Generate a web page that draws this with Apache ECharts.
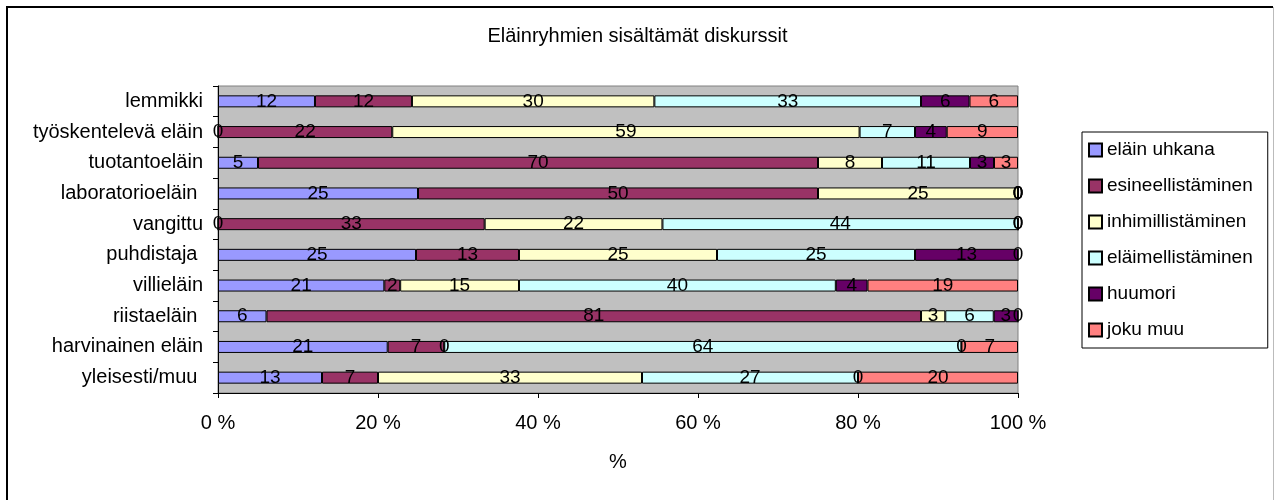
<!DOCTYPE html>
<html>
<head>
<meta charset="utf-8">
<title>Eläinryhmien sisältämät diskurssit</title>
<script src="https://cdn.jsdelivr.net/npm/echarts@6/dist/echarts.min.js"></script>
<style>
  html, body { margin: 0; padding: 0; background: #fff; }
  #chart { width: 1275px; height: 500px; }
</style>
</head>
<body>
<div id="chart"></div>
<script>
// categories, top to bottom
const categories = [
  'lemmikki', 'työskentelevä eläin', 'tuotantoeläin', 'laboratorioeläin ', 'vangittu',
  'puhdistaja ', 'villieläin', 'riistaeläin ', 'harvinainen eläin', 'yleisesti/muu '
];
const seriesNames = [
  'eläin uhkana', 'esineellistäminen', 'inhimillistäminen',
  'eläimellistäminen', 'huumori', 'joku muu'
];
// values as printed on the bars
const elainUhkana       = [12, 0, 5, 25, 0, 25, 21, 6, 21, 13];
const esineellistaminen = [12, 22, 70, 50, 33, 13, 2, 81, 7, 7];
const inhimillistaminen = [30, 59, 8, 25, 22, 25, 15, 3, 0, 33];
const elaimellistaminen = [33, 7, 11, 0, 44, 25, 40, 6, 64, 27];
const huumori           = [6, 4, 3, 0, 0, 13, 4, 3, 0, 0];
const jokuMuu           = [6, 9, 3, 0, 0, 0, 19, 0, 7, 20];
const xTicks = [0, 20, 40, 60, 80, 100];

const colors = ['#9999FF', '#993366', '#FFFFCC', '#CCFFFF', '#660066', '#FF8080'];
const FONT = 'Liberation Sans, Arial, sans-serif';

const rows = [elainUhkana, esineellistaminen, inhimillistaminen, elaimellistaminen, huumori, jokuMuu];
// 100 % stacked: each row is scaled by its total
const totals = categories.map((c, i) => rows.reduce((s, r) => s + r[i], 0));

const series = rows.map((arr, k) => ({
  type: 'bar',
  name: seriesNames[k],
  stack: 'all',
  barWidth: 12,
  clip: false,
  data: arr.map((v, i) => ({ value: v / totals[i] * 100, raw: v })),
  itemStyle: { color: colors[k], borderColor: '#000', borderWidth: 1 },
  label: {
    show: true,
    position: 'inside',
    color: '#000',
    fontFamily: FONT,
    fontSize: 19,
    formatter: (p) => p.data.raw,
  },
  labelLayout: { hideOverlap: false },
  emphasis: { disabled: true },
}));

const myChart = echarts.init(document.getElementById('chart'));
myChart.setOption({
  animation: false,
  backgroundColor: '#fff',
  textStyle: { fontFamily: FONT, color: '#000' },
  title: {
    text: 'Eläinryhmien sisältämät diskurssit',
    left: 'center',
    top: 26,
    padding: 0,
    textStyle: { fontFamily: FONT, fontSize: 20, fontWeight: 'normal', color: '#000' },
  },
  legend: {
    orient: 'vertical',
    left: 1082,
    top: 132,
    padding: [8, 15, 8, 6],
    itemGap: 16,
    itemWidth: 13,
    itemHeight: 13,
    icon: 'rect',
    backgroundColor: '#fff',
    borderColor: '#000',
    borderWidth: 1,
    textStyle: { fontFamily: FONT, fontSize: 19, lineHeight: 20, color: '#000' },
    data: seriesNames,
  },
  graphic: [
    { type: 'polyline', shape: { points: [[7, 500], [7, 7], [1273, 7]] }, style: { stroke: '#000', lineWidth: 2, fill: null } },
    { type: 'line', shape: { x1: 1273.5, y1: 7, x2: 1273.5, y2: 500 }, style: { stroke: '#bbb', lineWidth: 1 } },
  ],
  grid: {
    left: 218,
    top: 86,
    width: 800,
    height: 307,
    show: true,
    backgroundColor: '#C0C0C0',
    borderColor: '#808080',
    borderWidth: 1,
  },
  xAxis: {
    type: 'value',
    min: xTicks[0],
    max: xTicks[xTicks.length - 1],
    interval: 20,
    name: '%',
    nameLocation: 'middle',
    nameGap: 59,
    nameTextStyle: { fontFamily: FONT, fontSize: 20, color: '#000' },
    axisLine: { show: true, lineStyle: { color: '#000', width: 1 } },
    axisTick: { show: true, length: 5, lineStyle: { color: '#000' } },
    axisLabel: { formatter: '{value} %', fontFamily: FONT, fontSize: 20, color: '#000', margin: 20 },
    splitLine: { show: false },
  },
  yAxis: {
    type: 'category',
    inverse: true,
    data: categories,
    axisLine: { show: true, lineStyle: { color: '#000', width: 1 } },
    axisTick: { show: true, length: 5, alignWithLabel: false, lineStyle: { color: '#000' } },
    axisLabel: { fontFamily: FONT, fontSize: 20, color: '#000', margin: 15 },
    splitLine: { show: false },
  },
  series,
});
</script>
</body>
</html>
